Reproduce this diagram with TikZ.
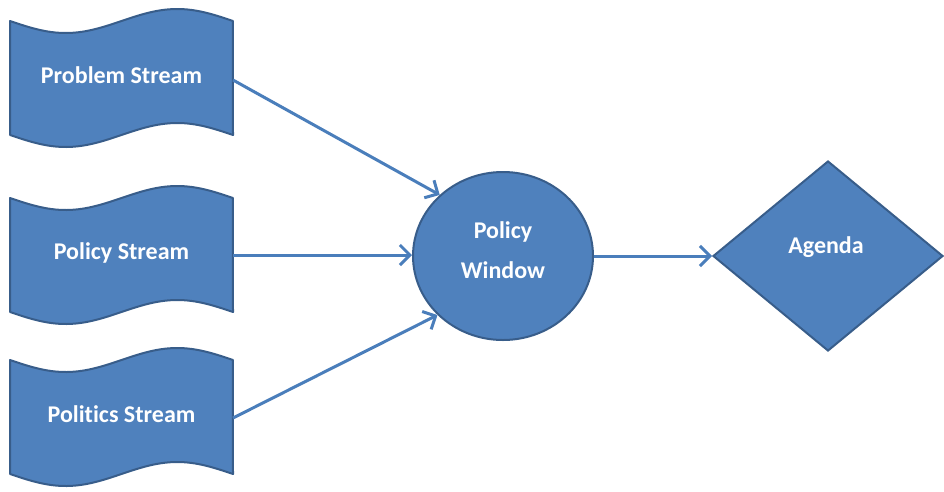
\documentclass[tikz,border=0pt]{standalone}
\usepackage{fontspec}
\setmainfont{Carlito}[Ligatures=NoCommon]
\usetikzlibrary{shapes.geometric,arrows.meta}
\definecolor{fillblue}{HTML}{4F81BD}
\definecolor{edgeblue}{HTML}{385D8A}
\definecolor{arrowblue}{HTML}{4A7EBB}
\newcommand\streamshape[1]{%
  \filldraw[fill=fillblue, draw=edgeblue, line width=2pt, line join=round]
    plot[domain=0:1, samples=60] ({10+223*\x},{#1-57+12*sin(360*\x)})
    -- plot[domain=1:0, samples=60] ({10+223*\x},{#1+57+12*sin(360*\x)})
    -- cycle;}
\begin{document}
\begin{tikzpicture}[x=1pt, y=-1pt,
  labelfont/.style={text=white, font=\bfseries\fontsize{24}{40}\selectfont, align=center},
  streambox/.style={labelfont, minimum width=223pt, minimum height=114pt, inner sep=0pt, outer sep=0pt},
  windowshape/.style={ellipse, fill=fillblue, draw=edgeblue, line width=2pt,
    minimum width=180pt, minimum height=168pt, inner sep=0pt},
  agendashape/.style={diamond, fill=fillblue, draw=edgeblue, line width=2pt,
    minimum width=230pt, minimum height=190pt, inner sep=0pt},
  flow/.style={draw=arrowblue, line width=3pt, -{Straight Barb[length=10pt, width=20pt]}}]
\useasboundingbox (0,0) rectangle (944,491);
\fill[white] (0,0) rectangle (944,491);

\streamshape{78}
\streamshape{255}
\streamshape{417}
\node[streambox] (s1) at (121.5,78) {\raisebox{6pt}{Problem Stream}};
\node[streambox] (s2) at (121.5,255) {\raisebox{8pt}{Policy Stream}};
\node[streambox] (s3) at (121.5,417) {\raisebox{6pt}{Poli\kern0pt tics Stream}};

\node[windowshape] (pw) at (503,256) {};
\node[labelfont] (pwtext) at (503,250) {Policy\\Window};

\node[agendashape] (ag) at (828,256) {};
\node[labelfont] (agtext) at (826,247) {Agenda};

\draw[flow] ([yshift=-2pt]s1.east) -- (pw.136);
\draw[flow] (s2.east) -- (s2.east -| pw.west);
\draw[flow] ([yshift=-1pt]s3.east) -- (pw.222);
\draw[flow] (pw.east) -- (ag.west);
\end{tikzpicture}
\end{document}
